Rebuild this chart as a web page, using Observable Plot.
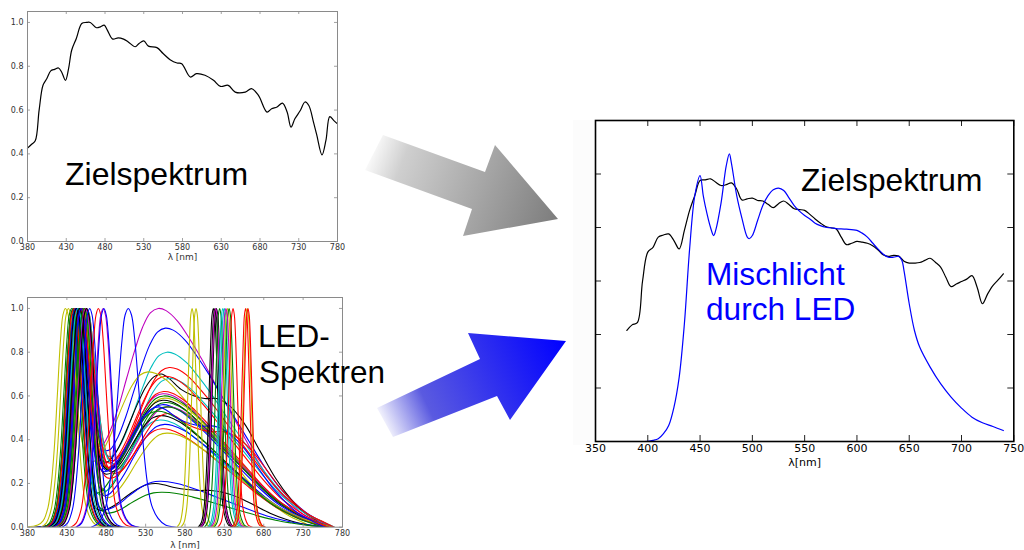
<!DOCTYPE html>
<html><head><meta charset="utf-8">
<script src="https://cdn.jsdelivr.net/npm/d3@7"></script>
<script src="https://cdn.jsdelivr.net/npm/@observablehq/plot@0.6"></script>
<style>
body{margin:0;background:#fff;}
#root{position:relative;width:1024px;height:550px;overflow:hidden;background:#fff;}
.panel{position:absolute;}
.big{position:absolute;font-family:"Liberation Sans",Arial,sans-serif;line-height:1;white-space:nowrap;}
</style></head><body><div id="root"></div>
<script>
// ---------- Panel 1: Zielspektrum ----------
const wlTarget = [380,385,390,395,400,405,410,415,420,424,429,433,437,443,450,456,461,469,474,479,483,490,497,504,510,519,524,530,536,547,555,564,573,579,590,598,609,620,629,639,648,661,669,678,689,695,702,709,715,720,725,732,738,743,749,753,760,765,770,775,780];
const target = [0.426,0.443,0.46,0.60,0.713,0.744,0.779,0.786,0.792,0.774,0.736,0.789,0.873,0.927,0.995,1.0,1.0,0.976,0.98,0.988,0.965,0.924,0.93,0.924,0.911,0.889,0.904,0.916,0.892,0.885,0.858,0.83,0.815,0.812,0.751,0.766,0.759,0.736,0.708,0.713,0.682,0.682,0.698,0.667,0.591,0.606,0.614,0.632,0.591,0.522,0.56,0.598,0.637,0.621,0.545,0.49,0.395,0.46,0.57,0.553,0.537];
const ticksX1 = [380,430,480,530,580,630,680,730,780];
const ticksY1 = [0,0.2,0.4,0.6,0.8,1.0];

// ---------- Panel 2: LED-Spektren ----------
const COLORS = {b:"#0000ff", g:"#008000", r:"#ff0000", c:"#00bfbf", m:"#bf00bf", y:"#bfbf00", k:"#000000"};
// narrow LED profile (offset in nm from peak, normalised intensity)
const narrowOff     = [-35,-28,-22,-18,-14,-10,-6,-3,0,3,6,10,14,18,22,28,35,45];
const narrowProfile = [0,0.02,0.08,0.18,0.35,0.6,0.85,0.97,1,0.97,0.86,0.62,0.38,0.2,0.1,0.04,0.01,0];
const narrowColor = ["y","g","g","r","b","k","c","k","b","g","m","k","b","r","m","b","b","y","y","k","k","k","m","g","c","c","y","g","m","r","r","y","r"];
const narrowPeak  = [432,436,438,439,441,442,444,446,448,452,454,455,459,470,476,477,508,589,594,616,618,620,619,624,628,630,634,636,632,641,657,659,660];
const narrowWidth = [1,1,1,1,1,1,1,1,1,1,1,1,1,1,1,1,1.35,0.55,0.55,0.55,0.55,0.55,0.55,0.55,0.55,0.55,0.55,0.55,0.55,0.55,0.5,0.5,0.5];
// white (phosphor) LEDs: offsets from the blue peak
const whiteOff   = [-50,-35,-28,-22,-18,-14,-10,-6,-3,0,3,6,10,14,18,22,28,35,45,55,65,75,85,95,105,115,130,145,160,175,190,210,230,250,270,285,300,315];
const blueWide   = [0,0.01,0.03,0.09,0.19,0.36,0.61,0.86,0.97,1,0.98,0.9,0.74,0.56,0.4,0.28,0.17,0.1,0.05,0.025,0.012,0.006,0.003,0,0,0,0,0,0,0,0,0,0,0,0,0,0,0];
const blueNarrow = [0,0.005,0.02,0.08,0.18,0.35,0.6,0.85,0.97,1,0.96,0.85,0.62,0.4,0.23,0.12,0.05,0.02,0.005,0,0,0,0,0,0,0,0,0,0,0,0,0,0,0,0,0,0,0];
const humpNeutral = [0,0,0,0,0,0,0,0,0,0,0,0.01,0.03,0.06,0.1,0.14,0.2,0.28,0.40,0.53,0.67,0.80,0.91,0.98,1.0,0.99,0.94,0.86,0.77,0.67,0.57,0.44,0.31,0.2,0.12,0.07,0.035,0];
const humpWarm    = [0,0,0,0,0,0,0,0,0,0,0,0.01,0.03,0.06,0.1,0.14,0.2,0.28,0.40,0.53,0.67,0.80,0.91,0.98,1.0,0.97,0.9,0.86,0.84,0.84,0.8,0.68,0.5,0.32,0.18,0.1,0.05,0];
const whiteColor = ["m","b","c","r","k","c","r","y","m","g","y","k","g","b","m","g","k","c","b","r","y","r","g","k","b","g","r","b"];
const whiteBlue  = [441,450,452,455,445,455,450,428,447,448,449,447,450,446,453,451,444,443,449,446,452,454,440,438,443,445,448,442];
const whiteTail  = ["w","w","w","w","w","w","w","w","w","w","w","w","n","w","w","w","w","n","n","w","n","w","n","n","n","n","w","w"];
const whiteAmp   = [1.0,0.91,0.80,0.73,0.70,0.68,0.69,0.71,0.61,0.60,0.59,0.58,0.57,0.56,0.55,0.55,0.51,0.49,0.47,0.45,0.43,0.52,0.53,0.20,0.21,0.16,0.62,0.55];
const whiteHump  = ["n","n","n","n","w","n","n","n","n","n","n","n","n","n","n","n","n","n","n","n","n","w","n","w","n","n","n","w"];

// ---------- Panel 3: Zielspektrum vs. Mischlicht ----------
const wlTarget3 = [380,385,390,395,400,405,410,415,420,425,430,435,440,445,450,455,460,465,470,475,480,485,490,495,500,505,510,515,520,525,530,535,540,545,550,555,560,565,570,575,580,585,590,595,600,605,610,615,620,625,630,635,640,645,650,655,660,665,670,675,680,685,690,695,700,705,710,715,720,725,730,735,740];
const target3 = [0.415,0.436,0.444,0.60,0.708,0.726,0.764,0.772,0.776,0.751,0.72,0.789,0.864,0.92,0.976,0.978,0.982,0.969,0.957,0.96,0.967,0.944,0.903,0.907,0.91,0.901,0.899,0.887,0.874,0.889,0.899,0.886,0.87,0.867,0.864,0.849,0.832,0.817,0.804,0.799,0.795,0.764,0.736,0.741,0.748,0.745,0.741,0.732,0.717,0.698,0.692,0.696,0.693,0.674,0.667,0.667,0.669,0.677,0.685,0.67,0.652,0.614,0.579,0.589,0.598,0.607,0.62,0.576,0.515,0.552,0.583,0.604,0.627];
const wlMix = [380,390,400,405,410,415,420,425,430,435,440,445,450,453,455,460,463,465,470,475,478,480,485,490,495,497,500,505,510,515,520,525,530,535,540,545,550,555,560,565,570,575,580,590,600,605,610,615,620,625,630,635,640,643,645,650,655,660,670,680,690,700,710,720,730,740];
const mix = [0,0,0.001,0.004,0.01,0.029,0.06,0.128,0.24,0.44,0.72,0.92,0.994,0.92,0.88,0.8,0.77,0.79,0.89,1.03,1.075,1.04,0.92,0.835,0.765,0.758,0.77,0.826,0.882,0.919,0.941,0.947,0.938,0.911,0.882,0.861,0.845,0.832,0.816,0.807,0.801,0.799,0.796,0.794,0.789,0.779,0.764,0.742,0.72,0.701,0.689,0.689,0.692,0.677,0.639,0.515,0.415,0.353,0.278,0.216,0.166,0.125,0.091,0.07,0.056,0.041];
const ticksX3 = [350,400,450,500,550,600,650,700,750];
const ticksY3 = [0,0.2,0.4,0.6,0.8,1.0,1.2];

// ---------- helpers ----------
const root = document.getElementById("root");
function place(el, left, top) { el.classList.add("panel"); el.style.left = left + "px"; el.style.top = top + "px"; root.appendChild(el); }
function innerTicks(xt, yt, pw, ph, len, stroke, sw) {
  return [
    Plot.tickX(xt, {x: d => d, insetTop: ph - len, stroke, strokeWidth: sw}),
    Plot.tickX(xt, {x: d => d, insetBottom: ph - len, stroke, strokeWidth: sw}),
    Plot.tickY(yt, {y: d => d, insetRight: pw - len, stroke, strokeWidth: sw}),
    Plot.tickY(yt, {y: d => d, insetLeft: pw - len, stroke, strokeWidth: sw})
  ];
}
function bigText(txt, left, top, size, color) {
  const d = document.createElement("div"); d.className = "big"; d.textContent = txt;
  d.style.left = left + "px"; d.style.top = top + "px"; d.style.fontSize = size + "px"; d.style.color = color;
  root.appendChild(d);
}
const smallStyle = {fontFamily: "DejaVu Sans", fontSize: "8px", background: "transparent", overflow: "visible"};

// ---------- Panel 1 ----------
{
  const W = 350, H = 270, ml = 27, mr = 13, mt = 11, mb = 29;
  const rows = wlTarget.map((w, i) => ({w, v: target[i]}));
  const p = Plot.plot({
    width: W, height: H, marginLeft: ml, marginRight: mr, marginTop: mt, marginBottom: mb,
    style: smallStyle,
    x: {domain: [380, 780]}, y: {domain: [0, 1.05]},
    marks: [
      Plot.line(rows, {x: "w", y: "v", stroke: "#000", strokeWidth: 1.2, curve: "catmull-rom"}),
      Plot.frame({stroke: "#8a8a8a", strokeWidth: 1}),
      ...innerTicks(ticksX1, ticksY1, W - ml - mr, H - mt - mb, 3, "#8a8a8a", 0.8),
      Plot.axisX(ticksX1, {tickSize: 0, tickPadding: 3, fill: "#333", label: null}),
      Plot.axisY(ticksY1, {tickSize: 0, tickPadding: 4, fill: "#333", label: null, tickFormat: d3.format(".1f")}),
      Plot.text(["λ [nm]"], {text: d => d, frameAnchor: "bottom", dy: 18, fontSize: 9, fill: "#333"})
    ]
  });
  place(p, 0, 0);
}

// ---------- Panel 2 ----------
{
  const W = 350, H = 260, ml = 27, mr = 8, mt = 7, mb = 23.3;
  const rows = [];
  whiteColor.forEach((c, i) => {
    const blue = whiteTail[i] === "w" ? blueWide : blueNarrow;
    const hump = whiteHump[i] === "w" ? humpWarm : humpNeutral;
    whiteOff.forEach((o, k) => rows.push({id: "w" + i, color: COLORS[c], x: whiteBlue[i] + o, y: blue[k] + whiteAmp[i] * hump[k]}));
  });
  narrowColor.forEach((c, i) => {
    narrowOff.forEach((o, k) => rows.push({id: "n" + i, color: COLORS[c], x: narrowPeak[i] + o * narrowWidth[i], y: narrowProfile[k]}));
  });
  const p = Plot.plot({
    width: W, height: H, marginLeft: ml, marginRight: mr, marginTop: mt, marginBottom: mb,
    style: smallStyle,
    x: {domain: [380, 780]}, y: {domain: [0, 1.05]},
    color: {type: "identity"},
    marks: [
      Plot.line(rows, {x: "x", y: "y", z: "id", stroke: "color", strokeWidth: 1.1, curve: "catmull-rom", clip: true}),
      Plot.frame({stroke: "#8a8a8a", strokeWidth: 1}),
      ...innerTicks(ticksX1, ticksY1, W - ml - mr, H - mt - mb, 3, "#8a8a8a", 0.8),
      Plot.axisX(ticksX1, {tickSize: 0, tickPadding: 3, fill: "#333", label: null}),
      Plot.axisY(ticksY1, {tickSize: 0, tickPadding: 4, fill: "#333", label: null, tickFormat: d3.format(".1f")}),
      Plot.text(["λ [nm]"], {text: d => d, frameAnchor: "bottom", dy: 21, fontSize: 9, fill: "#333"})
    ]
  });
  place(p, 0, 290);
}

// very faint backdrop left of the right panel
{
  const d = document.createElement("div");
  d.style.cssText = "position:absolute;left:573px;top:120px;width:22px;height:325px;background:#fcfcfc;";
  root.appendChild(d);
}

// ---------- Panel 3 ----------
{
  const W = 464, H = 380, ml = 35, mr = 10.7, mt = 20, mb = 39;
  const t = wlTarget3.map((w, i) => ({w, v: target3[i]}));
  const m = wlMix.map((w, i) => ({w, v: mix[i]}));
  const p = Plot.plot({
    width: W, height: H, marginLeft: ml, marginRight: mr, marginTop: mt, marginBottom: mb,
    style: {fontFamily: "DejaVu Sans", fontSize: "11px", background: "transparent", overflow: "visible"},
    x: {domain: [350, 750]}, y: {domain: [0, 1.2], axis: null},
    marks: [
      Plot.line(t, {x: "w", y: "v", stroke: "#000", strokeWidth: 1.2, curve: "catmull-rom"}),
      Plot.line(m, {x: "w", y: "v", stroke: "#0000ff", strokeWidth: 1.2, curve: "catmull-rom"}),
      ...innerTicks(ticksX3, ticksY3, W - ml - mr, H - mt - mb, 6, "#222", 1),
      Plot.frame({stroke: "#000", strokeWidth: 1.6}),
      Plot.axisX(ticksX3, {tickSize: 0, tickPadding: 3, fill: "#000", label: null}),
      Plot.text(["λ[nm]"], {text: d => d, frameAnchor: "bottom", dy: 24, fontSize: 11, fill: "#000"})
    ]
  });
  place(p, 560, 100);
}

// ---------- arrows ----------
{
  const ns = "http://www.w3.org/2000/svg";
  const svg = document.createElementNS(ns, "svg");
  svg.setAttribute("width", 1024); svg.setAttribute("height", 550);
  svg.style.cssText = "position:absolute;left:0;top:0;";
  svg.innerHTML = `
    <defs>
      <linearGradient id="gg" gradientUnits="userSpaceOnUse" x1="368" y1="150" x2="558" y2="222">
        <stop offset="0" stop-color="#ffffff"/><stop offset="0.18" stop-color="#cfcfcf"/><stop offset="1" stop-color="#7c7c7c"/>
      </linearGradient>
      <linearGradient id="bg" gradientUnits="userSpaceOnUse" x1="382" y1="428" x2="566" y2="342">
        <stop offset="0" stop-color="#ffffff"/><stop offset="0.25" stop-color="#5a5ae0"/><stop offset="1" stop-color="#0000ff"/>
      </linearGradient>
    </defs>
    <polygon points="383,135 485,172 495,145 558,219 463,236 472,209 365,170" fill="url(#gg)"/>
    <polygon points="377,408 480,359 468,333 566,341 510,420 497,396 393,437" fill="url(#bg)"/>`;
  root.appendChild(svg);
}

// ---------- large labels ----------
bigText("Zielspektrum", 65, 158, 32, "#000");
bigText("LED-", 258, 320.5, 31.5, "#000");
bigText("Spektren", 259, 356.5, 31.5, "#000");
bigText("Zielspektrum", 801, 164.5, 31.7, "#000");
bigText("Mischlicht", 706, 259, 31.6, "#0000ff");
bigText("durch LED", 706, 294, 31.6, "#0000ff");
</script>
</body></html>
